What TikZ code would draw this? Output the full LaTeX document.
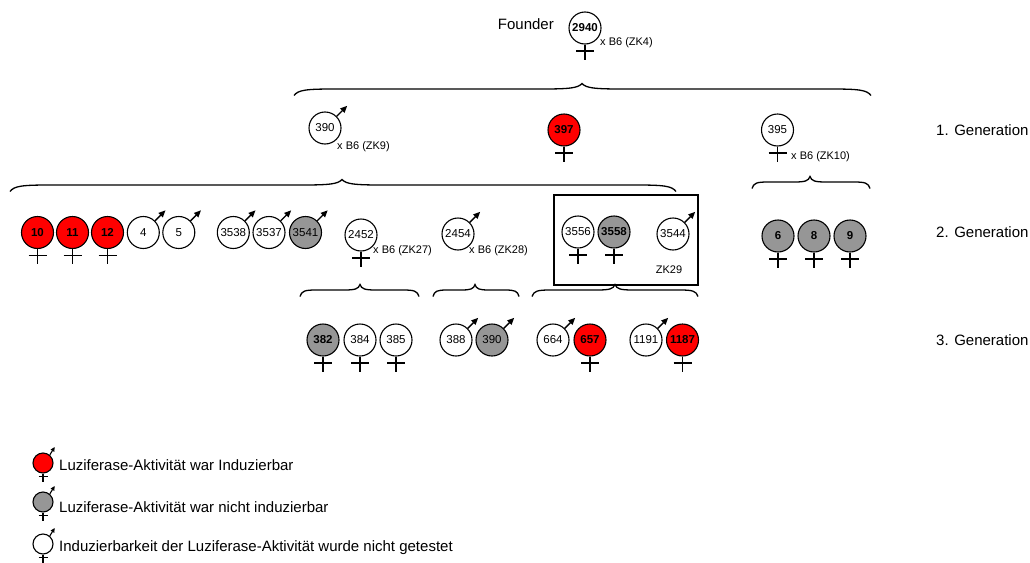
\documentclass[tikz,border=0pt]{standalone}
\usepackage{fontspec}
\setmainfont{Liberation Sans}
\usetikzlibrary{arrows.meta}
\definecolor{indred}{RGB}{255,0,0}
\definecolor{indgrey}{RGB}{150,150,150}
% brace: #1 x0, #2 tip x, #3 x1, #4 line y, #5 curve length
\newcommand{\wbrace}[5]{%
\draw[bracestyle] (#1,#4+6.5) .. controls (#1+0.1*#5,#4+1) and (#1+0.3*#5,#4) .. (#1+#5,#4)
 -- (#2-#5,#4) .. controls (#2-0.3*#5,#4) and (#2-0.1*#5,#4-1) .. (#2,#4-5.5)
 .. controls (#2+0.1*#5,#4-1) and (#2+0.3*#5,#4) .. (#2+#5,#4)
 -- (#3-#5,#4) .. controls (#3-0.3*#5,#4) and (#3-0.1*#5,#4+1) .. (#3,#4+6.5);}
\newcommand{\femsym}[1]{\draw[sym] (#1.south) -- ++(0,15); \draw[sym] (#1.south) ++(-9,6.5) -- ++(18,0);}
\newcommand{\malesym}[1]{\draw[malearrow] (#1.45) -- ++(10.5,-10.5);}
\newcommand{\legsym}[1]{\draw[sym,line width=1.1pt] (#1.south) -- ++(0,8); \draw[sym,line width=1.1pt] (#1.south) ++(-4.5,3) -- ++(9,0);
 \draw[line width=1.1pt,-{Triangle[length=4.5pt,width=4pt]}] (#1.50) -- ++(5,-8);}
\begin{document}
\begin{tikzpicture}[x=1pt,y=-1pt,
 ind/.style={circle,draw=black,line width=1.1pt,minimum size=32pt,inner sep=0pt,font=\fontsize{11.5}{13}\selectfont},
 indb/.style={ind,font=\fontsize{11.5}{13}\selectfont\bfseries},
 indr/.style={ind,fill=indred,font=\fontsize{11.5}{13}\selectfont\bfseries},
 indg/.style={ind,fill=indgrey},
 indgb/.style={ind,fill=indgrey,font=\fontsize{11.5}{13}\selectfont\bfseries},
 legcirc/.style={circle,draw=black,line width=1.1pt,minimum size=20pt,inner sep=0pt},
 sym/.style={line width=1.4pt},
 malearrow/.style={line width=1.4pt,-{Triangle[length=7pt,width=6pt]}},
 bigtxt/.style={font=\fontsize{15}{18}\selectfont,inner sep=0pt},
 smalltxt/.style={font=\fontsize{11}{13}\selectfont,inner sep=0pt},
 bracestyle/.style={line width=1.3pt},
 boxstyle/.style={draw=black,line width=1.1pt}
]
\useasboundingbox (0,0) rectangle (1030,562);

% Founder
\node[bigtxt,anchor=east] (founder) at (554,24) {Founder};
\node[indb] (f2940) at (585,28) {2940};
\femsym{f2940}
\node[smalltxt,anchor=west] (zk4) at (600,43) {x B6 (ZK4)};

\wbrace{294}{582}{871}{89}{40}

% 1. Generation
\node[ind] (a390) at (325,128) {390};
\malesym{a390}
\node[smalltxt,anchor=west] (zk9) at (337,147) {x B6 (ZK9)};
\node[indr] (a397) at (564,130) {397};
\femsym{a397}
\node[ind] (a395) at (777.5,130) {395};
\femsym{a395}
\node[smalltxt,anchor=west] (zk10) at (791,157) {x B6 (ZK10)};
\node[bigtxt,anchor=west] (gen1) at (936,130) {1. Generation};

\wbrace{10}{342}{676}{185}{40}
\wbrace{752}{810}{870}{182}{16}

% 2. Generation
\node[indr] (b10) at (37.5,232.5) {10}; \femsym{b10}
\node[indr] (b11) at (72.5,232.5) {11}; \femsym{b11}
\node[indr] (b12) at (107.5,232.5) {12}; \femsym{b12}
\node[ind] (b4) at (143.3,232.5) {4}; \malesym{b4}
\node[ind] (b5) at (178.8,232.5) {5}; \malesym{b5}
\node[ind] (b3538) at (233.3,232.5) {3538}; \malesym{b3538}
\node[ind] (b3537) at (269,232.5) {3537}; \malesym{b3537}
\node[indg] (b3541) at (305.5,232.5) {3541}; \malesym{b3541}
\node[ind] (b2452) at (361,235) {2452}; \femsym{b2452}
\node[smalltxt,anchor=west] (zk27) at (373,251) {x B6 (ZK27)};
\node[ind] (b2454) at (458,234) {2454}; \malesym{b2454}
\node[smalltxt,anchor=west] (zk28) at (469,251) {x B6 (ZK28)};
\draw[boxstyle] (554,195) rectangle (698,285);
\node[ind] (b3556) at (578,232) {3556}; \femsym{b3556}
\node[indgb] (b3558) at (614,232) {3558}; \femsym{b3558}
\node[ind] (b3544) at (673,234) {3544}; \malesym{b3544}
\node[smalltxt] (zk29) at (669,270) {ZK29};
\node[indgb] (b6) at (778,236) {6}; \femsym{b6}
\node[indgb] (b8) at (814,236) {8}; \femsym{b8}
\node[indgb] (b9) at (850,236) {9}; \femsym{b9}
\node[bigtxt,anchor=west] (gen2) at (936,232) {2. Generation};

\wbrace{300}{360}{419}{290}{16}
\wbrace{433}{475}{519}{290}{14}
\wbrace{532}{615}{698}{290}{18}

% 3. Generation
\node[indgb] (c382) at (323,340) {382}; \femsym{c382}
\node[ind] (c384) at (360,340) {384}; \femsym{c384}
\node[ind] (c385) at (396,340) {385}; \femsym{c385}
\node[ind] (c388) at (456,340) {388}; \malesym{c388}
\node[indg] (c390) at (492,340) {390}; \malesym{c390}
\node[ind] (c664) at (553,340) {664}; \malesym{c664}
\node[indr] (c657) at (590,340) {657}; \femsym{c657}
\node[ind] (c1191) at (646,340) {1191}; \malesym{c1191}
\node[indr] (c1187) at (682.5,340) {1187}; \femsym{c1187}
\node[bigtxt,anchor=west] (gen3) at (936,340) {3. Generation};

% Legend
\node[legcirc,fill=indred] (l1) at (43,463) {}; \legsym{l1}
\node[bigtxt,anchor=west] (lt1) at (59,465) {Luziferase-Aktivität war Induzierbar};
\node[legcirc,fill=indgrey] (l2) at (43,502) {}; \legsym{l2}
\node[bigtxt,anchor=west] (lt2) at (59,507) {Luziferase-Aktivität war nicht induzierbar};
\node[legcirc,fill=white] (l3) at (43,544) {}; \legsym{l3}
\node[bigtxt,anchor=west] (lt3) at (59,548) {Induzierbarkeit der Luziferase-Aktivität wurde nicht getestet};
\end{tikzpicture}
\end{document}
